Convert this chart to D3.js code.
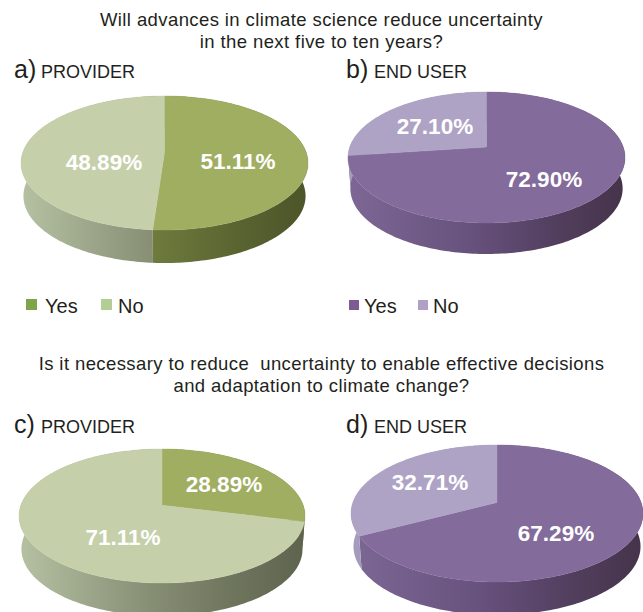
<!DOCTYPE html>
<html>
<head>
<meta charset="utf-8">
<script src="https://cdn.jsdelivr.net/npm/d3@7/dist/d3.min.js"></script>
<style>
html,body{margin:0;padding:0;background:#fff;overflow:hidden}
svg{display:block}
text{font-family:"Liberation Sans",Arial,sans-serif;font-kerning:normal;text-rendering:optimizeLegibility}
</style>
</head>
<body>
<svg id="chart" width="643" height="612"></svg>
<script>
// Survey answers, in percent
const categories = ["Yes", "No"];
const valuesA = [51.11, 48.89];
const valuesB = [72.90, 27.10];
const valuesC = [28.89, 71.11];
const valuesD = [67.29, 32.71];

const questionOne = ["Will advances in climate science reduce uncertainty", "in the next five to ten years?"];
const questionTwo = ["Is it necessary to reduce  uncertainty to enable effective decisions", "and adaptation to climate change?"];

const greenTheme = {
  top: ["#a0ae62", "#c5d0aa"], key: ["#7ea447", "#b3cd96"],
  wall: [["#8a9a50", "#6e7b3d", "#4c5429"], ["#b6c1a3", "#868e74", "#5e634d"]]
};
const purpleTheme = {
  top: ["#836b9b", "#afa3c5"], key: ["#7d5a93", "#b1a0c5"],
  wall: [["#7d6794", "#66507c", "#45334a"], ["#a69cbc", "#8d84a3", "#6e6680"]]
};

const panels = [
  {id: "a", tag: "a)", name: "PROVIDER", values: valuesA, theme: greenTheme,
   cx: 164.5, cy: 163, rx: 143.5, ry: 67, depth: 33, tagX: 14, nameX: 41, tagY: 78,
   labels: [[238, 169], [104, 170]],
   legend: {y: 299, size: 11, squares: [26, 101], texts: [45, 118]}},
  {id: "b", tag: "b)", name: "END USER", values: valuesB, theme: purpleTheme,
   cx: 486.5, cy: 157.5, rx: 138.5, ry: 65.5, depth: 31, tagX: 346, nameX: 374, tagY: 78,
   labels: [[544, 187], [435, 134]],
   legend: {y: 300, size: 10, squares: [349, 418], texts: [364, 433]}},
  {id: "c", tag: "c)", name: "PROVIDER", values: valuesC, theme: greenTheme,
   cx: 162, cy: 516, rx: 143, ry: 67, depth: 33, tagX: 14, nameX: 41, tagY: 433,
   labels: [[224, 492], [123, 545]]},
  {id: "d", tag: "d)", name: "END USER", values: valuesD, theme: purpleTheme,
   cx: 497, cy: 513.5, rx: 146, ry: 68.5, depth: 33, tagX: 346, nameX: 374, tagY: 433,
   labels: [[556, 541], [430, 490]]}
];

const svg = d3.select("#chart");
const defs = svg.append("defs");
const ink = "#231f20";
const tilt = 0.16;

// Perspective view of a flat disc: the near edge is drawn larger, so the hub sits above the ellipse centre.
function projector(cx, cy, rx, ry) {
  const a = rx * Math.sqrt(1 - tilt * tilt);
  const b = ry * (1 - tilt * tilt);
  const hubY = cy - tilt * ry;
  return t => {
    const u = Math.sin(t), v = -Math.cos(t), w = 1 - tilt * v;
    return [cx + a * u / w, hubY + b * v / w];
  };
}

function arcSamples(project, start, end) {
  const n = Math.max(2, Math.ceil((end - start) / 0.02));
  return d3.range(n + 1).map(i => project(start + (end - start) * i / n));
}

const outline = d3.line().curve(d3.curveLinear);
const pie = d3.pie().sort(null);

function drawTitle(lines, y0) {
  svg.append("g").selectAll("text").data(lines).join("text")
    .attr("x", 321.5).attr("y", (d, i) => y0 + i * 21.5)
    .attr("text-anchor", "middle").attr("font-size", 18.5).attr("letter-spacing", 0.4)
    .attr("fill", ink).style("white-space", "pre").text(d => d);
}
drawTitle(questionOne, 26);
drawTitle(questionTwo, 370);

panels.forEach(p => {
  const g = svg.append("g").attr("class", "panel-" + p.id);
  const top = projector(p.cx, p.cy, p.rx, p.ry);
  const base = projector(p.cx, p.cy + p.depth, p.rx * 0.983, p.ry);
  const hub = [p.cx, p.cy - tilt * p.ry];
  const arcs = pie(p.values);

  // Side wall: one band per slice, shaded left to right across the whole disc
  arcs.forEach((d, i) => {
    const gid = `wall-${p.id}-${i}`;
    const shade = d3.scaleLinear().domain([0, 0.46, 0.95])
      .range(p.theme.wall[i]);
    const grad = defs.append("linearGradient").attr("id", gid)
      .attr("gradientUnits", "userSpaceOnUse")
      .attr("x1", p.cx - p.rx).attr("x2", p.cx + p.rx).attr("y1", 0).attr("y2", 0);
    [0, 0.46, 0.75, 1].forEach(o => grad.append("stop")
      .attr("offset", o).attr("stop-color", shade(Math.min(o, 0.95))));
    const pts = arcSamples(top, d.startAngle, d.endAngle)
      .concat(arcSamples(base, d.startAngle, d.endAngle).reverse());
    g.append("path").attr("d", outline(pts) + "Z").attr("fill", `url(#${gid})`);
  });

  // Top face
  arcs.forEach((d, i) => {
    const pts = [hub].concat(arcSamples(top, d.startAngle, d.endAngle));
    g.append("path").attr("d", outline(pts) + "Z").attr("fill", p.theme.top[i])
      .attr("stroke", p.theme.top[i]).attr("stroke-width", 0.4);
  });

  // Value labels
  arcs.forEach((d, i) => {
    g.append("text").attr("x", p.labels[i][0]).attr("y", p.labels[i][1])
      .attr("text-anchor", "middle").attr("font-size", 22.5).attr("font-weight", 700)
      .attr("fill", "#fff").text(d.value.toFixed(2) + "%");
  });

  // Panel heading
  g.append("text").attr("x", p.tagX).attr("y", p.tagY).attr("font-size", 25)
    .attr("fill", ink).text(p.tag);
  g.append("text").attr("x", p.nameX).attr("y", p.tagY).attr("font-size", 18)
    .attr("fill", ink).text(p.name);

  // Legend
  if (p.legend) {
    categories.forEach((c, i) => {
      g.append("rect").attr("x", p.legend.squares[i]).attr("y", p.legend.y)
        .attr("width", p.legend.size).attr("height", p.legend.size)
        .attr("fill", p.theme.key[i]);
      g.append("text").attr("x", p.legend.texts[i]).attr("y", 312.5)
        .attr("font-size", 20).attr("fill", ink).text(c);
    });
  }
});
</script>
</body>
</html>
